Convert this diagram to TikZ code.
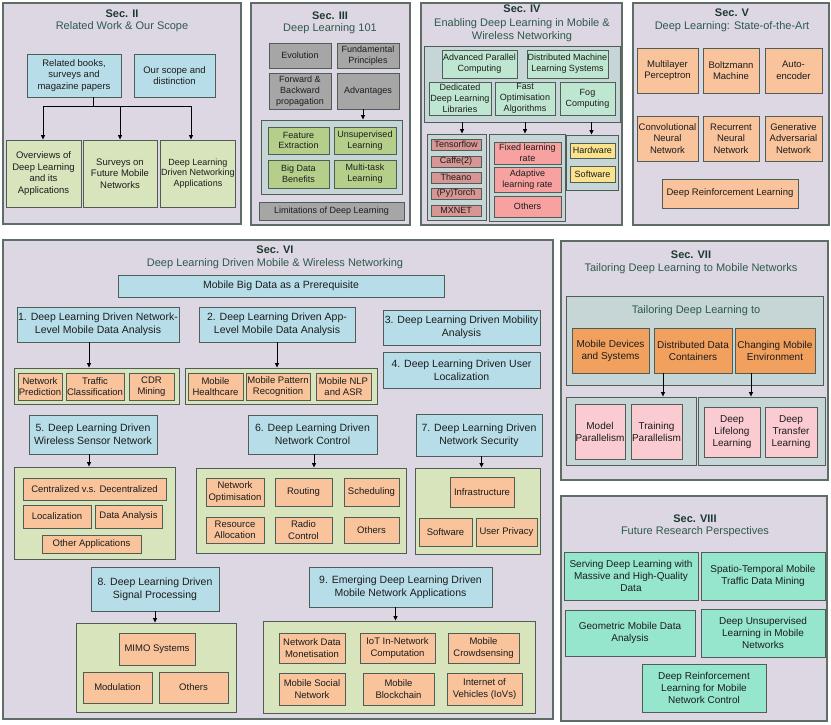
\documentclass[tikz,border=0pt]{standalone}
\usepackage{fontspec}
\setmainfont{Liberation Sans}
\usetikzlibrary{arrows.meta,shadows}
\definecolor{lav}{HTML}{DDD6E3}
\definecolor{pbord}{HTML}{5E6E66}
\definecolor{bbord}{HTML}{4E5E56}
\definecolor{txt}{HTML}{1C1C1C}
\definecolor{ttlc}{HTML}{1E3A30}
\definecolor{subc}{HTML}{2E5A4A}
\definecolor{lblue}{HTML}{B7DEE8}
\definecolor{lgreen}{HTML}{D8E4BC}
\definecolor{greyb}{HTML}{A6A6A6}
\definecolor{midgreen}{HTML}{B5CF8A}
\definecolor{cont}{HTML}{C6D5D5}
\definecolor{mint}{HTML}{BFE6D0}
\definecolor{rose}{HTML}{D79593}
\definecolor{salmon}{HTML}{F7A1A1}
\definecolor{yel}{HTML}{FAE38C}
\definecolor{peach}{HTML}{F9C39B}
\definecolor{orng}{HTML}{F2A05E}
\definecolor{pinkb}{HTML}{FACCD2}
\definecolor{aqua}{HTML}{95E6CD}
\newcommand\ftitle{\fontsize{11}{13}\selectfont}
\newcommand\fbig{\fontsize{10.5}{12.6}\selectfont}
\newcommand\ften{\fontsize{10}{12}\selectfont}
\newcommand\fnh{\fontsize{9.5}{11.5}\selectfont}
\newcommand\fnine{\fontsize{9}{10.8}\selectfont}
\newcommand\mybox[7][]{\node[bx,#1,minimum width={(#5)-(#3)},minimum height={(#6)-(#4)}] (#2) at ({((#3)+(#5))/2},{((#4)+(#6))/2}) {#7};}
\tikzset{
  bx/.style={draw=bbord, line width=0.9pt, align=center, inner sep=0.5pt, text=txt, font=\fnh,
    drop shadow={shadow xshift=0.9pt, shadow yshift=-0.9pt, fill=black, opacity=0.3}},
  panel/.style={draw=pbord, fill=lav, line width=1.2pt},
  contb/.style={fill=cont},
  ttl/.style={font=\ftitle\bfseries, text=ttlc, align=center},
  sub/.style={font=\ftitle, text=subc, align=center},
  arr/.style={draw=black, line width=0.8pt, -{Triangle[length=4.5pt,width=4pt]}},
  plain/.style={draw=black, line width=0.8pt},
}
\begin{document}
\begin{tikzpicture}[x=1pt,y=-1pt]
\useasboundingbox (0,0) rectangle (831,724);
% ---------------- Sec II
\mybox[panel]{p2}{3}{3}{241}{224}{}
\node[ttl] (t2) at (122,14) {Sec. II};
\node[sub] (s2) at (122,27) {Related Work \& Our Scope};
\mybox[fill=lblue]{rb}{27}{54}{121}{97}{Related books,\\surveys and\\magazine papers}
\mybox[fill=lblue]{os}{134}{54}{215}{97}{Our scope and\\distinction}
\mybox[fill=lgreen]{ov}{6}{140}{81}{207}{Overviews of\\Deep Learning\\and its\\Applications}
\mybox[fill=lgreen]{sv}{83}{140}{157}{207}{Surveys on\\Future Mobile\\Networks}
\mybox[fill=lgreen,font=\fnine]{dl}{161}{140}{235}{207}{Deep Learning\\Driven Networking\\Applications}
\coordinate (stem) at (93,106);
\coordinate (h1) at (43,106);
\coordinate (h3) at (191,106);
\draw[plain] (stem |- rb.south) -- (stem);
\draw[plain] (h1) -- (h3);
\draw[arr] (h1) -- (h1 |- ov.north);
\draw[arr] (sv.north |- h1) -- (sv.north);
\draw[arr] (h3) -- (h3 |- dl.north);
% ---------------- Sec III
\mybox[panel]{p3}{251}{3}{410}{225}{}
\node[ttl] (t3) at (330,16) {Sec. III};
\node[sub] (s3) at (330,29) {Deep Learning 101};
\mybox[fill=greyb,font=\fnine]{ev}{269}{43}{331}{68}{Evolution}
\mybox[fill=greyb,font=\fnine]{fp}{337}{43}{399}{68}{Fundamental\\Principles}
\mybox[fill=greyb,font=\fnine]{fb}{269}{73}{331}{109}{Forward \&\\Backward\\propagation}
\mybox[fill=greyb,font=\fnine]{ad}{337}{73}{399}{109}{Advantages}
\mybox[contb]{c3}{261}{120}{402}{194}{}
\mybox[fill=midgreen,font=\fnine]{fe}{268}{127}{329}{154}{Feature\\Extraction}
\mybox[fill=midgreen,font=\fnine]{ul}{334}{127}{396}{154}{Unsupervised\\Learning}
\mybox[fill=midgreen,font=\fnine]{bd}{268}{160}{329}{188}{Big Data\\Benefits}
\mybox[fill=midgreen,font=\fnine]{mt}{334}{160}{396}{188}{Multi-task\\Learning}
\mybox[fill=greyb,font=\fnine]{lim}{259}{202}{404}{220}{Limitations of Deep Learning}
\draw[arr] ([xshift=-5pt]ad.south) -- ([xshift=-5pt]ad.south |- c3.north);
% ---------------- Sec IV
\mybox[panel]{p4}{421}{3}{622}{225}{}
\node[ttl] (t4) at (522,9) {Sec. IV};
\node[sub] (s4) at (522,30) {Enabling Deep Learning in Mobile \&\\Wireless Networking};
\mybox[contb]{o4}{424}{46}{620}{122}{}
\mybox[fill=mint,font=\fnine]{apc}{442}{50}{517}{78}{Advanced Parallel\\Computing}
\mybox[fill=mint,font=\fnine]{dms}{527}{50}{608}{78}{Distributed Machine\\Learning Systems}
\mybox[fill=mint,font=\fnine]{ded}{429}{82}{491}{115}{Dedicated\\Deep Learning\\Libraries}
\mybox[fill=mint,font=\fnine]{fo}{495}{82}{555}{115}{Fast\\Optimisation\\Algorithms}
\mybox[fill=mint,font=\fnine]{fog}{560}{82}{615}{115}{Fog\\Computing}
\mybox[contb]{lib}{427}{134}{486}{220}{}
\mybox[fill=rose,font=\fnine]{tf}{431}{139}{481}{150}{Tensorflow}
\mybox[fill=rose,font=\fnine]{cf}{431}{156}{481}{167}{Caffe(2)}
\mybox[fill=rose,font=\fnine]{th}{431}{172}{481}{183}{Theano}
\mybox[fill=rose,font=\fnine]{pt}{431}{188}{481}{199}{(Py)Torch}
\mybox[fill=rose,font=\fnine]{mx}{431}{205}{481}{216}{MXNET}
\mybox[contb]{lr}{489}{134}{565}{221}{}
\mybox[fill=salmon,font=\fnine]{fx}{494}{142}{561}{164}{Fixed learning\\rate}
\mybox[fill=salmon,font=\fnine]{al}{494}{167}{561}{192}{Adaptive\\learning rate}
\mybox[fill=salmon,font=\fnine]{ot4}{494}{196}{561}{217}{Others}
\mybox[contb]{fc}{566}{135}{618}{190}{}
\mybox[fill=yel,font=\fnine]{hw}{570}{143}{615}{158}{Hardware}
\mybox[fill=yel,font=\fnine]{sw}{570}{166}{615}{182}{Software}
\draw[arr] ([xshift=2pt]ded.south |- o4.south) -- ([xshift=2pt]ded.south |- lib.north);
\draw[arr] (fo.south |- o4.south) -- (fo.south |- lr.north);
\draw[arr] ([xshift=4pt]fog.south |- o4.south) -- ([xshift=4pt]fog.south |- fc.north);
% ---------------- Sec V
\mybox[panel]{p5}{633}{3}{829}{225}{}
\node[ttl] (t5) at (732,13) {Sec. V};
\node[sub] (s5) at (732,27) {Deep Learning: State-of-the-Art};
\mybox[fill=peach]{mlp}{637}{48}{698}{93}{Multilayer\\Perceptron}
\mybox[fill=peach]{bm}{703}{48}{759}{93}{Boltzmann\\Machine}
\mybox[fill=peach]{ae}{765}{48}{822}{93}{Auto-\\encoder}
\mybox[fill=peach]{cnn}{637}{116}{698}{161}{Convolutional\\Neural\\Network}
\mybox[fill=peach]{rnn}{703}{116}{759}{161}{Recurrent\\Neural\\Network}
\mybox[fill=peach]{gan}{765}{116}{822}{161}{Generative\\Adversarial\\Network}
\mybox[fill=peach]{drl}{662}{179}{798}{208}{Deep Reinforcement Learning}
% ---------------- Sec VI
\mybox[panel]{p6}{3}{240}{553}{719}{}
\node[ttl] (t6) at (275,250) {Sec. VI};
\node[sub] (s6) at (275,264) {Deep Learning Driven Mobile \& Wireless Networking};
\mybox[fill=lblue,font=\fbig]{mbd}{118}{275}{444}{297}{Mobile Big Data as a Prerequisite}
\mybox[fill=lblue,font=\fbig]{b1}{17}{307}{179}{342}{1. Deep Learning Driven Network-\\Level Mobile Data Analysis}
\mybox[fill=lblue,font=\fbig]{b2}{199}{307}{355}{342}{2. Deep Learning Driven App-\\Level Mobile Data Analysis}
\mybox[fill=lblue,font=\fbig]{b3}{383}{310}{540}{345}{3. Deep Learning Driven Mobility\\Analysis}
\mybox[fill=lblue,font=\fbig]{b4}{383}{352}{540}{388}{4. Deep Learning Driven User\\Localization}
\mybox[fill=lgreen]{c1}{14}{368}{179}{404}{}
\mybox[fill=peach]{np}{18}{373}{62}{400}{Network\\Prediction}
\mybox[fill=peach]{tc}{66}{373}{124}{400}{Traffic\\Classification}
\mybox[fill=peach]{cdr}{129}{373}{174}{400}{CDR\\Mining}
\mybox[fill=lgreen]{c2}{185}{368}{377}{404}{}
\mybox[fill=peach]{mh}{188}{373}{243}{400}{Mobile\\Healthcare}
\mybox[fill=peach]{mpr}{246}{373}{310}{400}{Mobile Pattern\\Recognition}
\mybox[fill=peach]{nlp}{316}{373}{371}{400}{Mobile NLP\\and ASR}
\draw[arr] ([xshift=-9pt]b1.south) -- ([xshift=-9pt]b1.south |- c1.north);
\draw[arr] (b2.south) -- (b2.south |- c2.north);
\mybox[fill=lblue,font=\fbig]{b5}{29}{415}{157}{454}{5. Deep Learning Driven\\Wireless Sensor Network}
\mybox[fill=lblue,font=\fbig]{b6}{248}{415}{377}{454}{6. Deep Learning Driven\\Network Control}
\mybox[fill=lblue,font=\fbig]{b7}{416}{414}{542}{456}{7. Deep Learning Driven\\Network Security}
\mybox[fill=lgreen]{c5}{14}{467}{175}{559}{}
\mybox[fill=peach]{cd}{23}{478}{166}{500}{Centralized v.s. Decentralized}
\mybox[fill=peach]{loc}{23}{505}{91}{528}{Localization}
\mybox[fill=peach]{da}{95}{505}{162}{528}{Data Analysis}
\mybox[fill=peach]{oa}{42}{535}{141}{553}{Other Applications}
\mybox[fill=lgreen]{c6}{196}{468}{406}{553}{}
\mybox[fill=peach]{no}{206}{478}{264}{506}{Network\\Optimisation}
\mybox[fill=peach]{rt}{275}{478}{332}{506}{Routing}
\mybox[fill=peach]{sch}{344}{478}{399}{506}{Scheduling}
\mybox[fill=peach]{ra}{206}{517}{264}{543}{Resource\\Allocation}
\mybox[fill=peach]{rc}{275}{517}{332}{543}{Radio\\Control}
\mybox[fill=peach]{ot6}{344}{517}{399}{543}{Others}
\mybox[fill=lgreen]{c7}{415}{468}{540}{554}{}
\mybox[fill=peach]{inf}{450}{477}{514}{507}{Infrastructure}
\mybox[fill=peach]{sw7}{419}{518}{472}{546}{Software}
\mybox[fill=peach]{up}{476}{518}{537}{546}{User Privacy}
\draw[arr] ([xshift=-4pt]b5.south) -- ([xshift=-4pt]b5.south |- c5.north);
\draw[arr] ([xshift=1.5pt]b6.south) -- ([xshift=1.5pt]b6.south |- c6.north);
\draw[arr] ([xshift=2.5pt]b7.south) -- ([xshift=2.5pt]b7.south |- c7.north);
\mybox[fill=lblue,font=\fbig]{b8}{91}{567}{219}{611}{8. Deep Learning Driven\\Signal Processing}
\mybox[fill=lblue,font=\fbig]{b9}{309}{567}{492}{607}{9. Emerging Deep Learning Driven\\Mobile Network Applications}
\mybox[fill=lgreen]{c8}{76}{623}{236}{712}{}
\mybox[fill=peach]{mimo}{119}{633}{195}{665}{MIMO Systems}
\mybox[fill=peach]{mod}{83}{672}{152}{703}{Modulation}
\mybox[fill=peach]{ot8}{159}{672}{228}{703}{Others}
\mybox[fill=lgreen]{c9}{263}{621}{535}{713}{}
\mybox[fill=peach]{ndm}{279}{633}{345}{663}{Network Data\\Monetisation}
\mybox[fill=peach]{iot}{360}{633}{435}{663}{IoT In-Network\\Computation}
\mybox[fill=peach]{mc}{448}{633}{519}{663}{Mobile\\Crowdsensing}
\mybox[fill=peach]{msn}{279}{673}{345}{705}{Mobile Social\\Network}
\mybox[fill=peach]{mbc}{363}{673}{434}{705}{Mobile\\Blockchain}
\mybox[fill=peach]{iov}{447}{673}{522}{705}{Internet of\\Vehicles (IoVs)}
\draw[arr] (b8.south) -- (b8.south |- c8.north);
\draw[arr] ([xshift=-5pt]b9.south) -- ([xshift=-5pt]b9.south |- c9.north);
% ---------------- Sec VII
\mybox[panel]{p7}{561}{241}{828}{480}{}
\node[ttl] (t7) at (691,255) {Sec. VII};
\node[sub] (s7) at (691,269) {Tailoring Deep Learning to Mobile Networks};
\mybox[contb]{o7}{566}{296}{823}{385}{}
\node[sub] (s7b) at (696,311) {Tailoring Deep Learning to};
\mybox[fill=orng,font=\ften]{mds}{572}{328}{649}{373}{Mobile Devices\\and Systems}
\mybox[fill=orng,font=\ften]{ddc}{654}{328}{732}{373}{Distributed Data\\Containers}
\mybox[fill=orng,font=\ften]{cme}{735}{328}{815}{373}{Changing Mobile\\Environment}
\mybox[contb]{l7}{566}{397}{696}{465}{}
\mybox[fill=pinkb,font=\ften]{mp}{575}{404}{625}{459}{Model\\Parallelism}
\mybox[fill=pinkb,font=\ften]{tp}{631}{404}{682}{459}{Training\\Parallelism}
\mybox[contb]{r7}{698}{397}{825}{465}{}
\mybox[fill=pinkb,font=\ften]{dll}{704}{407}{760}{457}{Deep\\Lifelong\\Learning}
\mybox[fill=pinkb,font=\ften]{dtl}{765}{407}{817}{457}{Deep\\Transfer\\Learning}
\draw[arr] ([xshift=-30pt]ddc.south) -- ([xshift=-30pt]ddc.south |- l7.north);
\draw[arr] ([xshift=-24pt]cme.south) -- ([xshift=-24pt]cme.south |- r7.north);
% ---------------- Sec VIII
\mybox[panel]{p8}{561}{496}{827}{721}{}
\node[ttl] (t8) at (695,519) {Sec. VIII};
\node[sub] (s8) at (695,532) {Future Research Perspectives};
\mybox[fill=aqua,font=\ften]{sdl}{564}{552}{698}{600}{Serving Deep Learning with\\Massive and High-Quality\\Data}
\mybox[fill=aqua,font=\ften]{st}{701}{552}{825}{600}{Spatio-Temporal Mobile\\Traffic Data Mining}
\mybox[fill=aqua,font=\ften]{gm}{565}{610}{695}{656}{Geometric Mobile Data\\Analysis}
\mybox[fill=aqua,font=\ften]{du}{701}{609}{825}{657}{Deep Unsupervised\\Learning in Mobile\\Networks}
\mybox[fill=aqua,font=\ften]{drm}{642}{664}{766}{712}{Deep Reinforcement\\Learning for Mobile\\Network Control}
\end{tikzpicture}
\end{document}
